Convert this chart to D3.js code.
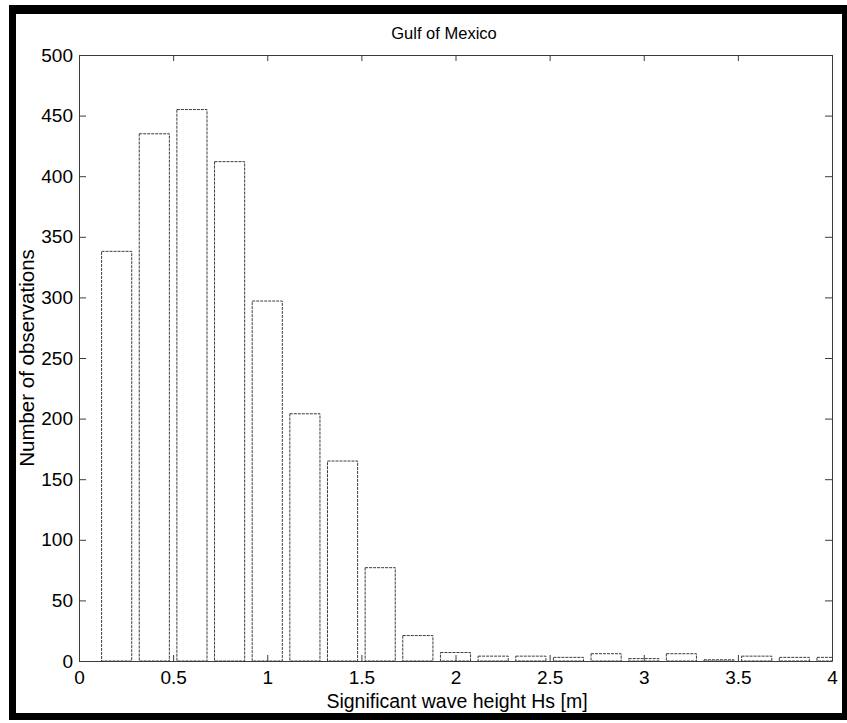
<!DOCTYPE html>
<html>
<head>
<meta charset="utf-8">
<script src="https://cdn.jsdelivr.net/npm/d3@7"></script>
<style>
  body { margin: 0; background: #fff; }
  text { font-family: "Liberation Sans", Arial, Helvetica, sans-serif; fill: #000; }
</style>
</head>
<body>
<svg id="chart" width="847" height="723"></svg>
<script>
// histogram bins (centres, metres) and counts
var binCenters = [0.2, 0.4, 0.6, 0.8, 1.0, 1.2, 1.4, 1.6, 1.8, 2.0,
                  2.2, 2.4, 2.6, 2.8, 3.0, 3.2, 3.4, 3.6, 3.8, 4.0];
var counts = [338, 435, 455, 412, 297, 204, 165, 77, 21, 7,
              4, 4, 3, 6, 2, 6, 1, 4, 3, 3];
var xTicks = [0, 0.5, 1, 1.5, 2, 2.5, 3, 3.5, 4];
var yTicks = [0, 50, 100, 150, 200, 250, 300, 350, 400, 450, 500];

var BIN_WIDTH = 0.2,
  BAR_FRAC = 0.8,
  LEFT = 79, RIGHT = 832, TOP = 55, BOTTOM = 661,
  LINE = '#3c3c3c';

var svg = d3.select('#chart');

var x = d3.scaleLinear().domain([0, 4]).range([LEFT, RIGHT]);
var y = d3.scaleLinear().domain([0, 500]).range([BOTTOM, TOP]);

// scanned page frame
svg.append('rect').attr('x', 9).attr('y', 5).attr('width', 838).attr('height', 9).attr('fill', '#000');
svg.append('rect').attr('x', 9).attr('y', 5).attr('width', 7).attr('height', 715).attr('fill', '#000');
svg.append('rect').attr('x', 9).attr('y', 713).attr('width', 838).attr('height', 7).attr('fill', '#000');
svg.append('rect').attr('x', 842).attr('y', 5).attr('width', 5).attr('height', 715).attr('fill', '#000');

svg.append('clipPath').attr('id', 'plotClip')
  .append('rect')
  .attr('x', LEFT).attr('y', TOP)
  .attr('width', RIGHT - LEFT).attr('height', BOTTOM - TOP);

// bars
svg.append('g')
  .attr('clip-path', 'url(#plotClip)')
  .selectAll('rect')
  .data(binCenters)
  .enter()
  .append('rect')
  .attr('x', function(d) { return x(d - BIN_WIDTH * BAR_FRAC / 2); })
  .attr('y', function(d, i) { return y(counts[i]); })
  .attr('width', function(d) { return x(d + BIN_WIDTH * BAR_FRAC / 2) - x(d - BIN_WIDTH * BAR_FRAC / 2); })
  .attr('height', function(d, i) { return y(0) - y(counts[i]); })
  .attr('fill', 'none')
  .attr('stroke', LINE)
  .attr('stroke-width', 1)
  .attr('stroke-dasharray', '3,1');

// axes, ticks pointing inward like matlab
var bottomAxis = svg.append('g')
  .attr('transform', 'translate(0,' + BOTTOM + ')')
  .call(d3.axisBottom(x).tickValues(xTicks).tickSizeInner(-6).tickSizeOuter(0).tickPadding(10)
    .tickFormat(function(d) { return d; }));

var topAxis = svg.append('g')
  .attr('transform', 'translate(0,' + TOP + ')')
  .call(d3.axisTop(x).tickValues(xTicks).tickSizeInner(-6).tickSizeOuter(0).tickFormat(''));

var leftAxis = svg.append('g')
  .attr('transform', 'translate(' + LEFT + ',0)')
  .call(d3.axisLeft(y).tickValues(yTicks).tickSizeInner(-7).tickSizeOuter(0).tickPadding(6));

var rightAxis = svg.append('g')
  .attr('transform', 'translate(' + RIGHT + ',0)')
  .call(d3.axisRight(y).tickValues(yTicks).tickSizeInner(-7).tickSizeOuter(0).tickFormat(''));

svg.selectAll('.domain, .tick line')
  .attr('stroke', LINE)
  .attr('stroke-width', 1);

bottomAxis.selectAll('text').style('font-size', '19px');
leftAxis.selectAll('text').style('font-size', '19px');

// labels
svg.append('text')
  .attr('x', 444)
  .attr('y', 39)
  .style('font-size', '16.5px')
  .style('text-anchor', 'middle')
  .text('Gulf of Mexico');

svg.append('text')
  .attr('x', 457)
  .attr('y', 708)
  .style('font-size', '19.5px')
  .style('text-anchor', 'middle')
  .text('Significant wave height Hs [m]');

svg.append('text')
  .attr('transform', 'translate(34,358) rotate(-90)')
  .style('font-size', '20.5px')
  .style('text-anchor', 'middle')
  .text('Number of observations');
</script>
</body>
</html>
